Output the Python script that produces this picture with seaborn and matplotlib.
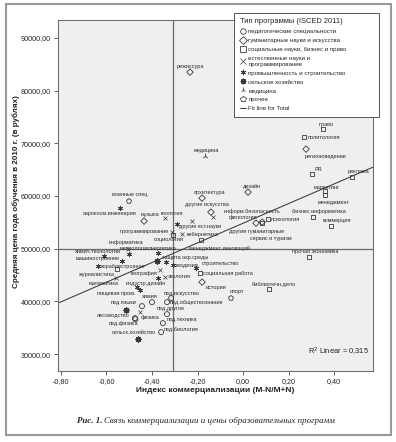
import matplotlib
matplotlib.use("Agg")
import matplotlib.pyplot as plt
import seaborn as sns
import pandas as pd
from matplotlib.lines import Line2D
from matplotlib.patches import Rectangle
from matplotlib.ticker import FixedLocator, FuncFormatter

# ---------------- data ----------------
programs = [
    "режиссура", "право", "политология", "регионоведение", "медицина", "PR", "реклама",
    "маркетинг", "менеджмент", "дизайн", "архитектура", "военные спец", "аэрокосм.инженерия",
    "другие искусства", "музыка", "геология", "информ.безопасность", "другие ест.науки", "",
    "филология", "другие гуманитарные", "психология", "сервис и туризм", "бизнес информатика",
    "коммерция", "прочая экономика", "библиотечн.дело", "спорт", "история", "социальная работа",
    "строительство", "геодезия", "экология", "защита окр.среды", "энергетика", "метрология",
    "химич.технологии", "машиностроение", "кораблестроение", "журналистика", "география",
    "математика", "индустр.дизайн", " ", "  ", "пищевая пром.", "химия", "пед.языки", "   ",
    "лесоводство", "физика", "пед.физика", "сельск.хозяйство", "пед.другое", "пед.техника",
    "пед.биология", "пед.искусство", "пед.обществознание", "кибернетика", "программирование",
    "социология", "информатика", "менеджмент инноваций",
]
types = [
    "hum", "soc", "soc", "hum", "med", "soc", "soc",
    "soc", "soc", "hum", "hum", "oth", "ind",
    "hum", "hum", "nat", "nat", "nat", "ind",
    "hum", "hum", "soc", "soc", "soc",
    "soc", "soc", "soc", "oth", "hum", "soc",
    "ind", "ind", "nat", "ind", "ind", "ind",
    "ind", "ind", "ind", "soc", "nat",
    "nat", "ind", "ind", "agr", "ind", "ped", "ped", "agr",
    "ped", "nat", "ped", "agr", "ped", "ped",
    "ped", "ped", "ped", "nat", "nat",
    "soc", "nat", "soc",
]
commercialization = [
    -0.233, 0.352, 0.268, 0.277, -0.167, 0.303, 0.479,
    0.360, 0.360, 0.022, -0.180, -0.501, -0.541,
    -0.141, -0.435, -0.343, -0.132, -0.224, -0.290,
    0.057, 0.084, 0.110, 0.084, 0.308,
    0.387, 0.290, 0.114, -0.053, -0.180, -0.189,
    -0.207, -0.308, -0.343, -0.338, -0.374, -0.501,
    -0.611, -0.532, -0.637, -0.554, -0.365,
    -0.558, -0.466, -0.374, -0.378, -0.453, -0.400, -0.444, -0.514,
    -0.475, -0.453, -0.473, -0.462, -0.334, -0.352,
    -0.360, -0.316, -0.334, -0.268, -0.312,
    -0.308, -0.505, -0.185,
]
price = [
    83510, 72690, 71180, 68900, 67570, 64160, 63590,
    60930, 60170, 60740, 59600, 59030, 57700,
    56940, 55240, 55810, 56000, 55240, 54670,
    54860, 55050, 55620, 54860, 56000,
    54290, 48410, 42330, 40630, 43660, 45370,
    46320, 46890, 44610, 47460, 49160, 48980,
    48600, 47650, 46700, 46130, 45940,
    44420, 42710, 44420, 47650, 42140, 39870, 39110, 38350,
    36830, 37970, 36640, 32850, 37590, 35880,
    34170, 40630, 39870, 52770, 53150,
    52580, 49920, 51630,
]

type_codes = ["ped", "hum", "soc", "nat", "ind", "agr", "med", "oth"]
type_names = [
    "педагогические специальности",
    "гуманитарные науки и искусства",
    "социальные науки, бизнес и право",
    "естественные науки и\nпрограммирование",
    "промышленность и строительство",
    "сельское хозяйство",
    "медицина",
    "прочее",
]
fit_x = [-0.813, 0.571]
fit_y = [39680, 65480]
mean_x = -0.308
mean_y = 50000
r2_value = 0.315
x_ticks = [-0.80, -0.60, -0.40, -0.20, 0.00, 0.20, 0.40]
y_ticks = [30000, 40000, 50000, 60000, 70000, 80000, 90000]

df = pd.DataFrame({"program": programs, "type": types,
                   "x": commercialization, "y": price})

# ---------------- styles ----------------
sns.set_theme(style="white")
plt.rcParams["font.family"] = ["Liberation Sans", "DejaVu Sans"]

INK = "#3a3a3a"
marker_style = {
    "ped": dict(marker="o", s=13, hollow=True, lw=0.6),
    "hum": dict(marker="D", s=11, hollow=True, lw=0.6),
    "soc": dict(marker="s", s=11, hollow=True, lw=0.6),
    "nat": dict(marker="x", s=8, hollow=False, lw=0.5),
    "ind": dict(marker=(6, 2, 0), s=11, hollow=False, lw=0.5),
    "agr": dict(marker=(8, 2, 0), s=13, hollow=False, lw=1.1),
    "med": dict(marker="2", s=18, hollow=False, lw=0.6),
    "oth": dict(marker="p", s=14, hollow=True, lw=0.6),
}

# label offsets in image pixels: (dx right, dy down, ha)
label_pos = {
    "режиссура": (0, -6, "center"), "право": (3, -5, "center"),
    "политология": (4, 0, "left"), "регионоведение": (-1, 7, "left"),
    "медицина": (1, -6, "center"), "PR": (6, -5, "center"), "реклама": (6, -6, "center"),
    "маркетинг": (2, -4, "center"), "менеджмент": (9, 7, "center"),
    "дизайн": (4, -6, "center"), "архитектура": (7, -6, "center"),
    "военные спец": (1, -7, "center"), "аэрокосм.инженерия": (-10, 5, "center"),
    "другие искусства": (-4, -8, "center"), "музыка": (6, -7, "center"),
    "геология": (7, -5, "center"), "информ.безопасность": (11, -6, "left"),
    "другие ест.науки": (-13, 5, "left"), "филология": (-13, -6, "center"),
    "другие гуманитарные": (-6, 9, "center"), "психология": (3, 0, "left"),
    "сервис и туризм": (9, 15, "center"), "бизнес информатика": (6, -6, "center"),
    "коммерция": (6, -6, "center"), "прочая экономика": (6, -6, "center"),
    "библиотечн.дело": (5, -5, "center"), "спорт": (6, -7, "center"),
    "история": (4, 5, "left"), "социальная работа": (3, 0, "left"),
    "строительство": (6, -5, "left"), "геодезия": (3, 0, "left"),
    "экология": (3, -1, "left"), "защита окр.среды": (-4, -5, "left"),
    "энергетика": (5, -5, "center"), "метрология": (6, -6, "center"),
    "химич.технологии": (-6, -5, "center"), "машиностроение": (-2, -3, "right"),
    "кораблестроение": (3, 0, "left"), "журналистика": (-2, 5, "right"),
    "география": (-3, 3, "right"), "математика": (-12, 5, "center"),
    "индустр.дизайн": (9, -4, "center"), "пищевая пром.": (-4, 3, "right"),
    "химия": (-2, -6, "center"), "пед.языки": (-18, -4, "center"),
    "лесоводство": (-5, -3, "right"), "физика": (1, 5, "left"),
    "пед.физика": (-12, 4, "center"), "сельск.хозяйство": (-4, -7, "center"),
    "пед.другое": (4, -6, "center"), "пед.техника": (4, -4, "left"),
    "пед.биология": (3, -3, "left"), "пед.искусство": (10, -5, "center"),
    "пед.обществознание": (3, 0, "left"), "кибернетика": (5, 0, "left"),
    "программирование": (-3, -1, "right"), "социология": (-4, 4, "center"),
    "информатика": (-2, -7, "center"), "менеджмент инноваций": (19, 8, "center"),
}

fig = plt.figure(figsize=(3.96, 4.42), dpi=100)
fig.patch.set_facecolor("white")
ax = fig.add_axes([58 / 396, 1 - 371 / 442, (373 - 58) / 396, (371 - 20) / 442])
ax.set_facecolor("#efefef")
ax.set_xlim(-0.813, 0.571)
ax.set_ylim(26800, 93400)

# reference lines
ax.axvline(mean_x, color="#6a6a6a", lw=0.9, zorder=1)
ax.axhline(mean_y, color="#6a6a6a", lw=0.9, zorder=1)

# fit line
sns.lineplot(x=fit_x, y=fit_y, ax=ax, color="#3a3a3a", lw=0.75, zorder=2)

# scatter per program type
for code in type_codes:
    sub = df[df["type"] == code]
    if sub.empty:
        continue
    st = marker_style[code]
    sns.scatterplot(data=sub, x="x", y="y", marker=st["marker"], s=st["s"],
                    color=INK, linewidth=st["lw"], ax=ax, zorder=3, legend=False)
    coll = ax.collections[-1]
    coll.set_edgecolor(INK)
    if st["hollow"]:
        coll.set_facecolor("none")

# point labels
PX = 0.72
for _, r in df.iterrows():
    name = r["program"].strip()
    if not name:
        continue
    dx, dy, ha = label_pos.get(name, (0, -6, "center"))
    ax.annotate(name, (r["x"], r["y"]), xytext=(dx * PX, -dy * PX),
                textcoords="offset points", ha=ha, va="center",
                fontsize=4.0, color="#2a2a2a", zorder=4)

# axes cosmetics
fmt = FuncFormatter(lambda v, p: f"{v:.2f}".replace(".", ","))
ax.xaxis.set_major_locator(FixedLocator(x_ticks))
ax.yaxis.set_major_locator(FixedLocator(y_ticks))
ax.xaxis.set_major_formatter(fmt)
ax.yaxis.set_major_formatter(fmt)
ax.tick_params(axis="both", which="major", direction="out", length=3, width=0.6,
               color="#444444", labelsize=5.2, labelcolor="#222222", pad=2,
               bottom=True, left=True, top=False, right=False)
for sp in ax.spines.values():
    sp.set_color("#707070")
    sp.set_linewidth(0.8)

ax.set_xlabel("Индекс коммерциализации (M-N/M+N)", fontsize=6.0,
              fontweight="bold", color="#222222")
ax.set_ylabel("Средняя цена года обучения в 2010 г. (в рублях)", fontsize=5.8,
              fontweight="bold", color="#222222")
ax.xaxis.set_label_coords((215 - 58) / 315, (371 - 391) / 351)
ax.yaxis.set_label_coords((16 - 58) / 315, (371 - 192) / 351)
ax.xaxis.label.set_va("center")
ax.yaxis.label.set_va("center")

ax.text(0.987, 0.054, "R$^2$ Linear = " + f"{r2_value:.3f}".replace(".", ","),
        transform=ax.transAxes, ha="right", va="center", fontsize=5.4, color="#222222")

# legend
handles = []
for code in type_codes:
    st = marker_style[code]
    handles.append(Line2D([], [], ls="none", marker=st["marker"], ms=4.0,
                          mfc="none" if st["hollow"] else INK, mec=INK,
                          mew=st["lw"] if code != "agr" else 0.9))
handles.append(Line2D([], [], color=INK, lw=0.7))
labels = type_names + ["Fit line for Total"]
leg = fig.legend(handles, labels, title="Тип программы (ISCED 2011)",
                 loc="upper left",
                 bbox_to_anchor=(234 / 396, 1 - 17 / 442, (379 - 234) / 396, 0.01),
                 mode="expand", bbox_transform=fig.transFigure,
                 fontsize=4.4, title_fontsize=5.4, frameon=True, fancybox=False,
                 borderpad=0.95, labelspacing=0.6, handlelength=1.0,
                 handletextpad=0.4, borderaxespad=0)
leg.get_frame().set_edgecolor("#555555")
leg.get_frame().set_linewidth(0.7)
leg.get_frame().set_facecolor("white")
leg.get_frame().set_alpha(1)
leg._legend_box.align = "left"
leg.get_title().set_ha("center")
leg.set_zorder(10)

# caption
fig.text(77 / 396, 1 - 421 / 442, "Рис. 1.", fontsize=6.4, fontstyle="italic",
         fontweight="bold", family=["Liberation Serif", "DejaVu Serif"],
         ha="left", va="center", color="#222222")
fig.text(104 / 396, 1 - 421 / 442,
         "Связь коммерциализации и цены образовательных программ",
         fontsize=6.4, fontstyle="italic", family=["Liberation Serif", "DejaVu Serif"],
         ha="left", va="center", color="#222222")

# outer frame
fig.patches.append(Rectangle((6 / 396, 1 - 435 / 442), (391 - 6) / 396, (435 - 4) / 442,
                             transform=fig.transFigure, fill=False,
                             edgecolor="#9a9a9a", lw=1.5))

fig.savefig("out.png", dpi=100, facecolor="white")
